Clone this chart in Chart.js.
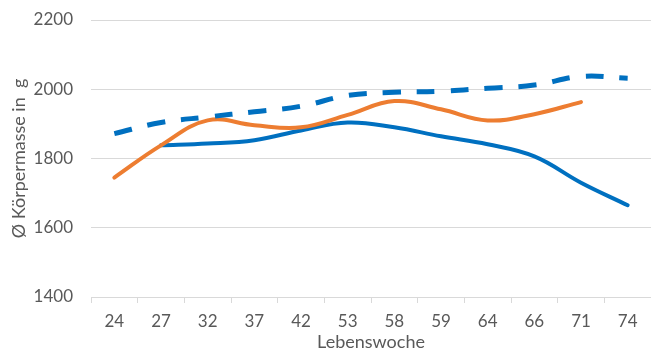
<!DOCTYPE html>
<html>
<head>
<meta charset="utf-8">
<script src="https://cdn.jsdelivr.net/npm/chart.js@4/dist/chart.umd.min.js"></script>
<style>
  html, body { margin: 0; padding: 0; background: #ffffff; }
  #wrap { width: 651px; height: 350px; }
</style>
</head>
<body>
<div id="wrap"><canvas id="c" width="651" height="350"></canvas></div>
<script>
// Lebenswochen (x categories)
const weeks = ['24', '27', '32', '37', '42', '53', '58', '59', '64', '66', '71', '74'];

// Zielwerte (dashed reference curve)
const target = [1872, 1904, 1920, 1935, 1951, 1982, 1991, 1994, 2003, 2012, 2037, 2032];

// Herde A (orange)
const flockA = [1745, 1838, 1910, 1896, 1890, 1926, 1966, 1942, 1910, 1928, 1963, null];

// Herde B (solid blue)
const flockB = [null, 1838, 1843, 1853, 1881, 1904, 1890, 1864, 1841, 1806, 1730, 1665];

const yTicks = [1400, 1600, 1800, 2000, 2200];

const textColor = '#595959';
const gridColor = '#d9d9d9';
const fontFamily = 'Lato, "Open Sans", sans-serif';

new Chart(document.getElementById('c'), {
  type: 'line',
  data: {
    labels: weeks,
    datasets: [
      {
        label: 'Ziel',
        data: target,
        borderColor: '#0070C0',
        borderWidth: 5,
        borderDash: [18, 16],
        tension: 0.4,
        pointRadius: 0,
        fill: false
      },
      {
        label: 'Herde A',
        data: flockA,
        borderColor: '#ED7D31',
        borderWidth: 4,
        borderCapStyle: 'round',
        tension: 0.4,
        pointRadius: 0,
        fill: false
      },
      {
        label: 'Herde B',
        data: flockB,
        borderColor: '#0070C0',
        borderWidth: 4,
        borderCapStyle: 'round',
        tension: 0.4,
        pointRadius: 0,
        fill: false
      }
    ]
  },
  options: {
    responsive: false,
    animation: false,
    layout: { padding: { top: 20, right: 0, bottom: 0, left: 0 } },
    plugins: { legend: { display: false }, tooltip: { enabled: false } },
    scales: {
      x: {
        type: 'category',
        offset: true,
        grid: {
          display: true,
          drawOnChartArea: false,
          drawTicks: true,
          tickLength: 6,
          color: gridColor,
          offset: true
        },
        border: { display: true, color: gridColor, width: 1 },
        ticks: {
          color: textColor,
          font: { family: fontFamily, size: 17 },
          padding: 8,
          maxRotation: 0,
          autoSkip: false
        },
        title: {
          display: true,
          text: 'Lebenswoche',
          color: textColor,
          font: { family: fontFamily, size: 18, lineHeight: 1 },
          padding: { top: 0, bottom: -1 }
        },
        afterFit: (scale) => {
          scale.height = 53;
          scale.paddingLeft = 0;
          scale.paddingRight = 0;
        }
      },
      y: {
        min: 1400,
        max: 2200,
        afterBuildTicks: (scale) => { scale.ticks = yTicks.map(v => ({ value: v })); },
        grid: { color: gridColor, lineWidth: 1, drawTicks: false },
        border: { display: false },
        ticks: {
          color: textColor,
          font: { family: fontFamily, size: 17 },
          padding: 18,
          callback: (value) => String(value)
        },
        title: {
          display: true,
          text: 'Ø Körpermasse in  g',
          color: textColor,
          font: { family: fontFamily, size: 18, lineHeight: 1.2 },
          padding: { top: 8, bottom: 0 }
        },
        afterFit: (scale) => {
          scale.width = 91;
          scale.paddingTop = 0;
          scale.paddingBottom = 0;
        }
      }
    }
  }
});
</script>
</body>
</html>
